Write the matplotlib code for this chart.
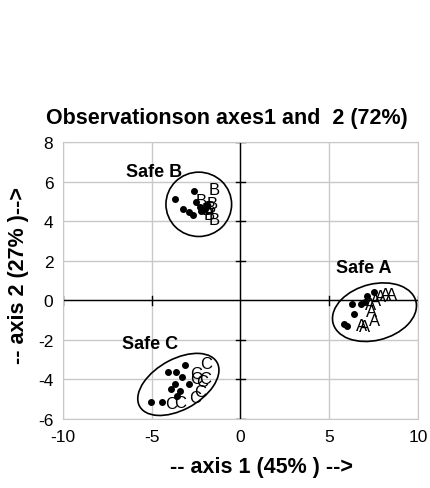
import matplotlib.pyplot as plt
from matplotlib.patches import Ellipse

plt.rcParams['font.family'] = ['Liberation Sans', 'DejaVu Sans']
plt.rcParams['axes.unicode_minus'] = False

# group B (dots = observations, letters = supplementary)
b_dots_x = [-3.7, -2.6, -2.5, -2.9, -2.7, -3.25, -2.3, -2.0, -1.9, -2.2]
b_dots_y = [5.1, 5.5, 4.95, 4.45, 4.3, 4.6, 4.7, 4.6, 4.8, 4.5]
b_let_x = [-1.5, -1.6, -1.75, -1.5, -1.9, -2.2, -1.7]
b_let_y = [5.6, 4.9, 4.35, 4.1, 4.6, 5.05, 4.7]

# group A
a_dots_x = [5.85, 6.0, 6.3, 6.8, 7.15, 7.5, 6.4, 7.0]
a_dots_y = [-1.2, -1.3, -0.2, -0.2, 0.2, 0.4, -0.7, -0.1]
a_let_x = [8.2, 8.5, 7.9, 7.6, 7.3, 7.55, 6.8, 7.4, 7.0]
a_let_y = [0.3, 0.3, 0.2, 0.0, -0.2, -1.0, -1.25, -0.55, -1.3]

# group C
c_dots_x = [-5.05, -4.4, -3.15, -4.1, -3.65, -3.3, -3.9, -3.55, -3.7, -2.9, -3.4]
c_dots_y = [-5.15, -5.15, -3.25, -3.6, -3.6, -3.9, -4.5, -4.85, -4.25, -4.25, -4.6]
c_let_x = [-1.95, -2.5, -2.15, -2.3, -2.55, -3.9, -3.4, -2.5, -2.0]
c_let_y = [-3.2, -3.7, -4.1, -4.6, -4.9, -5.2, -5.15, -3.95, -3.95]

fig = plt.figure(figsize=(4.3, 4.89), dpi=100)
ax = fig.add_axes([0.1465, 0.141, 0.8255, 0.5666])
ax.set_xlim(-10, 10)
ax.set_ylim(-6, 8)
ax.set_xticks([-10, -5, 0, 5, 10])
ax.set_yticks([-6, -4, -2, 0, 2, 4, 6, 8])
ax.grid(True, color='#c8c8c8', linewidth=1)
ax.set_axisbelow(True)
for s in ax.spines.values():
    s.set_color('#c8c8c8')
ax.tick_params(length=0, labelsize=12.5, pad=7)

# central axes with cross ticks
ax.axhline(0, color='black', linewidth=1, zorder=2)
ax.axvline(0, color='black', linewidth=1, zorder=2)
for t in [-10, -5, 5, 10]:
    ax.plot([t, t], [-0.22, 0.22], color='black', linewidth=1)
for t in [-6, -4, -2, 2, 4, 6, 8]:
    ax.plot([-0.28, 0.28], [t, t], color='black', linewidth=1)

for dx, dy, lx, ly, lab in [(b_dots_x, b_dots_y, b_let_x, b_let_y, 'B'),
                            (a_dots_x, a_dots_y, a_let_x, a_let_y, 'A'),
                            (c_dots_x, c_dots_y, c_let_x, c_let_y, 'C')]:
    ax.plot(dx, dy, 'o', color='black', markersize=4, zorder=3)
    for x, y in zip(lx, ly):
        ax.text(x, y, lab, fontsize=12, ha='center', va='center', zorder=3)

ax.add_patch(Ellipse((-2.35, 4.85), 3.7, 3.25, angle=0, fill=False, color='black', linewidth=1.2))
ax.add_patch(Ellipse((7.55, -0.6), 4.8, 2.85, angle=12, fill=False, color='black', linewidth=1.2))
ax.add_patch(Ellipse((-3.5, -4.25), 4.9, 2.6, angle=25, fill=False, color='black', linewidth=1.2))

ax.text(-4.85, 6.5, 'Safe B', fontsize=13, fontweight='bold', ha='center', va='center')
ax.text(6.95, 1.65, 'Safe A', fontsize=13, fontweight='bold', ha='center', va='center')
ax.text(-5.1, -2.2, 'Safe C', fontsize=13, fontweight='bold', ha='center', va='center')

ax.set_title('Observationson axes1 and  2 (72%)', fontsize=15.5, fontweight='bold', pad=14, x=0.463)
ax.set_xlabel('-- axis 1 (45% ) -->', fontsize=15.5, fontweight='bold')
ax.xaxis.set_label_coords(0.56, -0.135)
ax.set_ylabel('-- axis 2 (27% )-->', fontsize=15.5, fontweight='bold')
ax.yaxis.set_label_coords(-0.095, 0.52)

fig.savefig('out.png', dpi=100)
